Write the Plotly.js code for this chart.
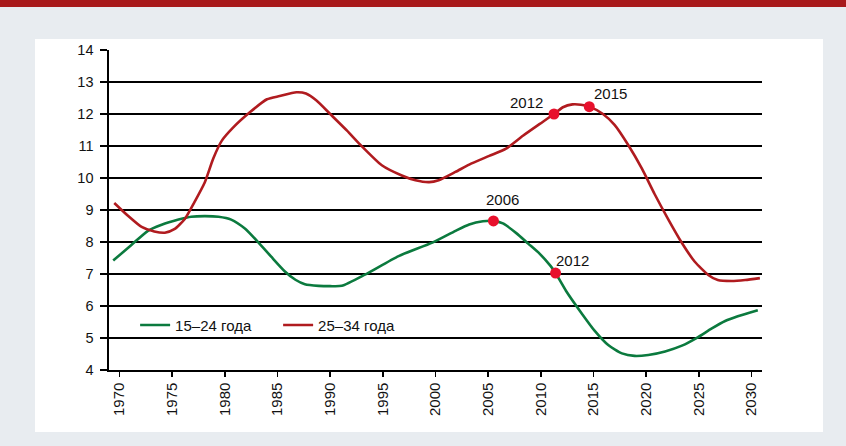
<!DOCTYPE html>
<html>
<head>
<meta charset="utf-8">
<script src="https://cdn.plot.ly/plotly-3.0.1.min.js"></script>
<style>
  html, body { margin: 0; padding: 0; width: 846px; height: 446px; overflow: hidden; background: #e8ecf0; }
  #bar { position: absolute; left: 0; top: 0; width: 846px; height: 7px; background: #a8191b; }
  #panel { position: absolute; left: 35px; top: 39px; width: 788px; height: 393px; background: #ffffff; }
  #chart { position: absolute; left: 0; top: 0; width: 846px; height: 446px; }
</style>
</head>
<body>
<div id="bar"></div>
<div id="panel"></div>
<div id="chart"></div>
<script>
// Series names
const seriesNames = ["15–24 года", "25–34 года"];

// 15–24 years
const youngYears = [1969.4, 1971.1, 1972.7, 1974.0, 1975.6, 1976.8, 1978.1, 1979.4, 1980.6, 1981.9, 1983.2, 1984.4, 1985.7, 1986.7, 1987.6, 1988.9, 1990.0, 1991.1, 1993.3, 1996.5, 1999.7, 2001.9, 2003.2, 2004.5, 2005.5, 2006.4, 2007.7, 2008.8, 2009.9, 2010.9, 2011.4, 2012.4, 2013.9, 2015.1, 2016.4, 2017.7, 2018.9, 2020.2, 2021.8, 2023.4, 2024.9, 2026.2, 2027.5, 2028.7, 2030.6];
const youngValues = [7.42, 7.9, 8.35, 8.54, 8.7, 8.79, 8.81, 8.79, 8.7, 8.42, 7.98, 7.54, 7.08, 6.82, 6.68, 6.63, 6.62, 6.63, 6.98, 7.56, 7.98, 8.35, 8.55, 8.65, 8.66, 8.58, 8.27, 7.95, 7.63, 7.26, 7.03, 6.47, 5.76, 5.23, 4.78, 4.52, 4.44, 4.47, 4.58, 4.76, 5.02, 5.29, 5.53, 5.68, 5.87];

// 25–34 years
const adultYears = [1969.5, 1970.8, 1972.1, 1973.3, 1974.3, 1975.2, 1976.2, 1977.1, 1978.1, 1978.9, 1979.7, 1980.8, 1982.4, 1984.0, 1985.2, 1986.8, 1987.7, 1988.7, 1990.0, 1991.6, 1992.8, 1994.9, 1996.8, 1998.1, 1999.4, 2000.3, 2001.9, 2003.2, 2005.1, 2006.7, 2008.3, 2009.9, 2011.25, 2012.1, 2013.0, 2013.8, 2014.6, 2015.9, 2017.0, 2018.3, 2019.6, 2020.8, 2022.1, 2023.4, 2024.6, 2025.9, 2026.8, 2028.1, 2029.4, 2030.8];
const adultValues = [9.22, 8.82, 8.47, 8.33, 8.29, 8.4, 8.72, 9.24, 9.87, 10.61, 11.16, 11.58, 12.06, 12.46, 12.56, 12.68, 12.64, 12.42, 12.0, 11.48, 11.06, 10.4, 10.08, 9.93, 9.87, 9.93, 10.19, 10.42, 10.69, 10.92, 11.32, 11.69, 12.0, 12.21, 12.3, 12.29, 12.23, 12.0, 11.66, 11.03, 10.29, 9.5, 8.71, 7.97, 7.39, 6.97, 6.81, 6.78, 6.81, 6.87];

// Highlighted points
const markYears = [2005.5, 2011.4, 2011.25, 2014.6];
const markValues = [8.66, 7.03, 12.0, 12.23];
const markLabels = ["2006", "2012", "2012", "2015"];

// Axis ticks
const xTickVals = [1970, 1975, 1980, 1985, 1990, 1995, 2000, 2005, 2010, 2015, 2020, 2025, 2030];
const xTickText = ["1970", "1975", "1980", "1985", "1990", "1995", "2000", "2005", "2010", "2015", "2020", "2025", "2030"];
const yTickVals = [4, 5, 6, 7, 8, 9, 10, 11, 12, 13, 14];

const FONT = "Liberation Sans, Arial, Helvetica, sans-serif";
const GREEN = "#0b7a3e";
const RED = "#b01b1f";
const DOT = "#e8112d";

const traces = [
  { x: youngYears, y: youngValues, name: seriesNames[0], type: "scatter", mode: "lines",
    line: { color: GREEN, width: 2.6, shape: "spline", smoothing: 0.6 } },
  { x: adultYears, y: adultValues, name: seriesNames[1], type: "scatter", mode: "lines",
    line: { color: RED, width: 2.6, shape: "spline", smoothing: 0.6 } },
  { x: markYears, y: markValues, type: "scatter", mode: "markers", showlegend: false,
    marker: { color: DOT, size: 11 }, hoverinfo: "skip" }
];

const shifts = [[9, 21], [17, 13], [-27, 12], [21, 13]];
const annotations = markLabels.map((t, i) => ({
  x: markYears[i], y: markValues[i], xref: "x", yref: "y", text: t, showarrow: false,
  xshift: shifts[i][0], yshift: shifts[i][1],
  font: { family: FONT, size: 15, color: "#111111" }
}));

const layout = {
  width: 846, height: 446,
  margin: { l: 109, r: 84, t: 50, b: 76 },
  paper_bgcolor: "rgba(0,0,0,0)",
  plot_bgcolor: "rgba(0,0,0,0)",
  font: { family: FONT, size: 14, color: "#111111" },
  showlegend: true,
  legend: {
    orientation: "h", x: 0.04, y: 0.14, xanchor: "left", yanchor: "middle",
    bgcolor: "rgba(0,0,0,0)", font: { family: FONT, size: 15, color: "#111111" },
    entrywidth: 98, entrywidthmode: "pixels", traceorder: "normal"
  },
  xaxis: {
    range: [1969, 2031], tickmode: "array", tickvals: xTickVals, ticktext: xTickText,
    tickangle: -90, ticks: "outside", ticklen: 5, tickwidth: 1.5, tickcolor: "#000",
    showline: true, linecolor: "#000", linewidth: 1.6, showgrid: false, zeroline: false,
    tickfont: { family: FONT, size: 15, color: "#111111" }, fixedrange: true
  },
  yaxis: {
    range: [4, 14], tickmode: "array", tickvals: yTickVals,
    ticks: "outside", ticklen: 7, tickwidth: 1.5, tickcolor: "#000",
    showline: true, linecolor: "#000", linewidth: 1.6,
    showgrid: true, gridcolor: "#000", gridwidth: 1.6, zeroline: false,
    ticklabelstandoff: 4,
    tickfont: { family: FONT, size: 14.5, color: "#111111" }, fixedrange: true
  },
  annotations: annotations
};

Plotly.newPlot("chart", traces, layout, { displayModeBar: false, staticPlot: true });
</script>
</body>
</html>
